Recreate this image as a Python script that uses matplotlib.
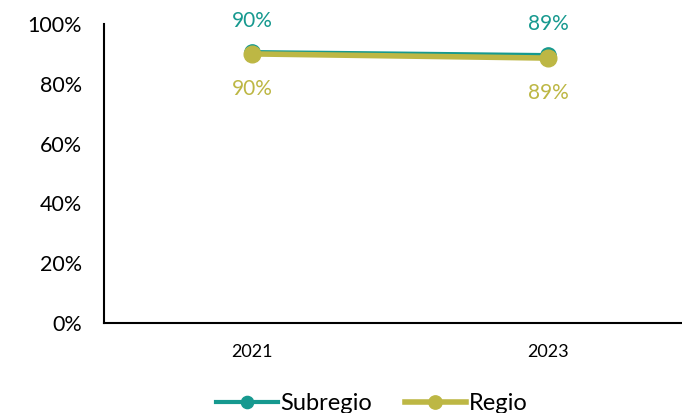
import matplotlib.pyplot as plt
from matplotlib.ticker import PercentFormatter

years = ["2021", "2023"]
subregio = [0.906, 0.896]
regio = [0.900, 0.886]
subregio_labels = ["90%", "89%"]
regio_labels = ["90%", "89%"]

teal = "#16998f"
olive = "#bdb744"

plt.rcParams['font.family'] = ['Lato', 'DejaVu Sans']

fig = plt.figure(figsize=(6.82, 4.13), dpi=100)
ax = fig.add_axes([104 / 682, 90 / 413, 592 / 682, 299 / 413])

x = range(len(years))
ax.plot(x, subregio, color=teal, linewidth=3, marker='o', markersize=11, label='Subregio', zorder=3)
ax.plot(x, regio, color=olive, linewidth=4, marker='o', markersize=12, label='Regio', zorder=4)

for i, (v, t) in enumerate(zip(subregio, subregio_labels)):
    ax.annotate(t, (i, v), xytext=(0, 15), textcoords='offset points', ha='center', va='bottom',
                color=teal, fontsize=15)
for i, (v, t) in enumerate(zip(regio, regio_labels)):
    ax.annotate(t, (i, v), xytext=(0, -18), textcoords='offset points', ha='center', va='top',
                color=olive, fontsize=15)

ax.set_xlim(-0.5, 1.5)
ax.set_ylim(0, 1)
ax.set_xticks(list(x))
ax.set_xticklabels(years, fontsize=13)
ax.set_yticks([0, 0.2, 0.4, 0.6, 0.8, 1.0])
ax.yaxis.set_major_formatter(PercentFormatter(1.0, decimals=0))
ax.tick_params(axis='y', labelsize=15.5, length=0, pad=16)
ax.tick_params(axis='x', length=0, pad=15)
for s in ['top', 'right']:
    ax.spines[s].set_visible(False)
ax.spines['left'].set_linewidth(1.5)
ax.spines['bottom'].set_linewidth(1.5)

fig.legend(loc='lower center', bbox_to_anchor=(0.545, -0.055), ncol=2, frameon=False,
           fontsize=17, handlelength=2.6, handletextpad=0.1, columnspacing=1.4, markerscale=0.8)

fig.savefig('out.png', dpi=100)
